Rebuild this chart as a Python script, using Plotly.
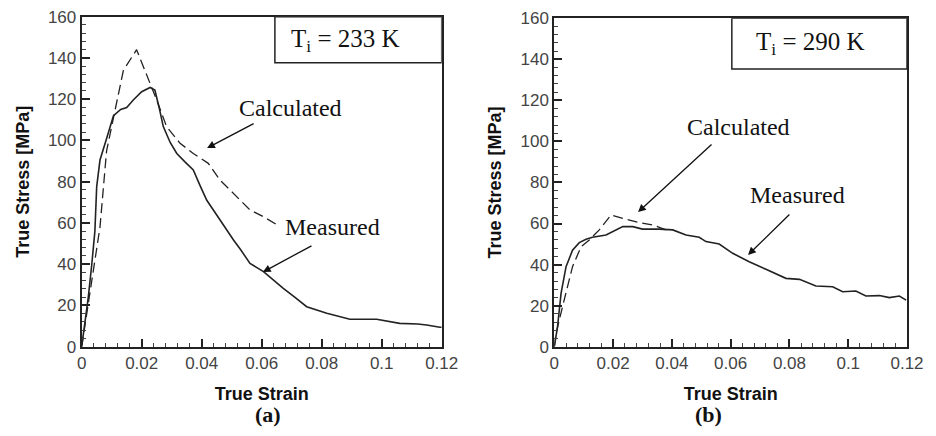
import plotly.graph_objects as go

# ---- data (a) T_i = 233 K ----
a_meas_x = [0, 0.0006, 0.0015, 0.0022, 0.0033, 0.0044, 0.005, 0.0061, 0.0081, 0.0106, 0.013, 0.015, 0.0172,
            0.02, 0.0228, 0.0244, 0.0258, 0.0272, 0.0295, 0.0317, 0.0345, 0.0372, 0.0395, 0.0417, 0.044,
            0.0461, 0.0485, 0.0506, 0.053, 0.0561, 0.0606, 0.064, 0.0672, 0.071, 0.075, 0.0817, 0.0894,
            0.0983, 0.106, 0.112, 0.115, 0.1194, 0.12]
a_meas_y = [0, 6.5, 15, 24, 39, 56, 77.6, 90.5, 100, 112, 115, 116, 119.6,
            123.6, 125.7, 124.4, 116, 106.7, 99, 93.7, 89.5, 85.7, 78, 71, 66,
            61.4, 56, 51.7, 47, 40.4, 36.4, 32, 28.3, 24, 19.4, 16.2, 13.3,
            13.3, 11.3, 11, 10.5, 9.4, 9.4]
a_calc_x = [0, 0.0028, 0.0061, 0.0083, 0.0111, 0.0139, 0.0183, 0.0228, 0.025, 0.0283, 0.0328, 0.0372,
            0.0422, 0.0461, 0.0506, 0.0561, 0.0606, 0.0661]
a_calc_y = [0, 26, 58, 95, 114.7, 134, 144, 127.7, 119.6, 106.7, 98.6, 93.7,
            88.9, 80.8, 74.3, 66.3, 63, 58.2]

# ---- data (b) T_i = 290 K ----
b_meas_x = [0, 0.0003, 0.0011, 0.0023, 0.004, 0.0062, 0.0085, 0.0108, 0.013, 0.0176, 0.0198, 0.0233,
            0.0267, 0.03, 0.0357, 0.0403, 0.0448, 0.0493, 0.0516, 0.0561, 0.0607, 0.0663, 0.072, 0.0788,
            0.0834, 0.089, 0.0947, 0.0981, 0.1026, 0.106, 0.1106, 0.114, 0.1174, 0.1197]
b_meas_y = [0, 3.2, 9.7, 26, 39, 47, 50.7, 52.3, 53.3, 54.4, 56, 58.5,
            58.5, 57.3, 57.3, 56.9, 54.4, 53.3, 51.2, 50, 45.5, 41.4, 37.7, 33.3,
            32.8, 29.6, 29.2, 26.8, 27.1, 24.7, 24.9, 23.9, 24.7, 22.7]
b_calc_x = [0, 0.0006, 0.0028, 0.0062, 0.0091, 0.0119, 0.0153, 0.0193, 0.0233, 0.0289, 0.0335, 0.038]
b_calc_y = [0, 6.5, 19.5, 39, 48.7, 52, 56.9, 64.2, 62.5, 60.4, 59.3, 56.9]

x_ticks = [0, 0.02, 0.04, 0.06, 0.08, 0.1, 0.12]
x_labels = ["0", "0.02", "0.04", "0.06", "0.08", "0.1", "0.12"]
y_ticks = [0, 20, 40, 60, 80, 100, 120, 140, 160]

LINE = "#222222"
fig = go.Figure()
fig.add_trace(go.Scatter(x=a_meas_x, y=a_meas_y, mode="lines", line=dict(color=LINE, width=1.6),
                         xaxis="x", yaxis="y", showlegend=False))
fig.add_trace(go.Scatter(x=a_calc_x, y=a_calc_y, mode="lines", line=dict(color=LINE, width=1.3, dash="10px,5px"),
                         xaxis="x", yaxis="y", showlegend=False))
fig.add_trace(go.Scatter(x=b_meas_x, y=b_meas_y, mode="lines", line=dict(color=LINE, width=1.6),
                         xaxis="x2", yaxis="y2", showlegend=False))
fig.add_trace(go.Scatter(x=b_calc_x, y=b_calc_y, mode="lines", line=dict(color=LINE, width=1.3, dash="10px,5px"),
                         xaxis="x2", yaxis="y2", showlegend=False))

tickfont = dict(family="Liberation Sans, Arial", size=17, color="#444444")
titlefont = dict(family="Liberation Sans, Arial", size=18, color="#111111")

def xax(domain, anchor):
    return dict(domain=domain, anchor=anchor, range=[0, 0.12], tickmode="array", tickvals=x_ticks,
                ticktext=x_labels, ticks="inside", ticklen=8, tickwidth=1.5, tickcolor="#222",
                minor=dict(dtick=0.004, ticks="inside", ticklen=4, tickwidth=1, tickcolor="#444"),
                showline=True, linecolor="#222", linewidth=2, mirror=True, showgrid=False, zeroline=False,
                automargin=False, ticklabeloverflow="allow", tickfont=tickfont,
                title=dict(text="<b>True Strain</b>", font=titlefont, standoff=15))

def yax(domain, anchor):
    return dict(domain=domain, anchor=anchor, range=[0, 160], tickmode="array", tickvals=y_ticks,
                ticks="inside", ticklen=8, tickwidth=1.5, tickcolor="#222",
                minor=dict(dtick=4, ticks="inside", ticklen=4, tickwidth=1, tickcolor="#444"),
                showline=True, linecolor="#222", linewidth=2, mirror=True, showgrid=False, zeroline=False,
                automargin=False, ticklabeloverflow="allow", tickfont=tickfont,
                title=dict(text="<b>True Stress [MPa]</b>", font=titlefont, standoff=14))

# page body adds an 8px margin, so the figure is 920x420 and domains are offset accordingly
fig.update_layout(
    width=920, height=420, margin=dict(l=0, r=0, t=0, b=0),
    paper_bgcolor="white", plot_bgcolor="white",
    xaxis=xax([0.0801, 0.4714], "y"), yaxis=yax([0.1936, 0.9793], "x"),
    xaxis2=xax([0.5938, 0.9772], "y2"), yaxis2=yax([0.1936, 0.9755], "x2"),
)

serif = "Liberation Serif, Times New Roman"
# boxes
fig.add_shape(type="rect", xref="x", yref="y", x0=0.0644, x1=0.12, y0=137.7, y1=160,
              line=dict(color="#222", width=1.5), fillcolor="white", layer="above")
fig.add_shape(type="rect", xref="x2", yref="y2", x0=0.0604, x1=0.12, y0=135.3, y1=160,
              line=dict(color="#222", width=1.5), fillcolor="white", layer="above")

ann = []
ann.append(dict(xref="x", yref="y", x=0.0878, y=148.7, text="T<sub>i</sub> = 233 K", showarrow=False,
                font=dict(family=serif, size=25, color="#111")))
ann.append(dict(xref="x2", yref="y2", x=0.0873, y=147.5, text="T<sub>i</sub> = 290 K", showarrow=False,
                font=dict(family=serif, size=25, color="#111")))
# labels
for xr, yr, x, y, t in [("x", "y", 0.0697, 115.7, "Calculated"), ("x", "y", 0.0836, 58, "Measured"),
                        ("x2", "y2", 0.0628, 107, "Calculated"), ("x2", "y2", 0.0829, 73.9, "Measured")]:
    ann.append(dict(xref=xr, yref=yr, x=x, y=y, text=t, showarrow=False,
                    font=dict(family=serif, size=24, color="#111")))
# arrows
for xr, yr, tx, ty, hx, hy in [("x", "y", 0.0578, 108.5, 0.0418, 96.3), ("x", "y", 0.0771, 49.3, 0.0604, 36.2),
                               ("x2", "y2", 0.054, 99.2, 0.0285, 65.6), ("x2", "y2", 0.0805, 65.1, 0.0659, 44.7)]:
    ann.append(dict(xref=xr, yref=yr, x=hx, y=hy, axref=xr, ayref=yr, ax=tx, ay=ty, text="",
                    showarrow=True, arrowhead=2, arrowsize=1.2, arrowwidth=1.3, arrowcolor="#111"))
# panel letters
ann.append(dict(xref="paper", yref="paper", x=0.2663, y=0.0333, text="<b>(a)</b>", showarrow=False,
                font=dict(family=serif, size=22, color="#111"), yanchor="middle"))
ann.append(dict(xref="paper", yref="paper", x=0.7783, y=0.0333, text="<b>(b)</b>", showarrow=False,
                font=dict(family=serif, size=22, color="#111"), yanchor="middle"))
fig.update_layout(annotations=ann)

fig.write_html("out.html")
